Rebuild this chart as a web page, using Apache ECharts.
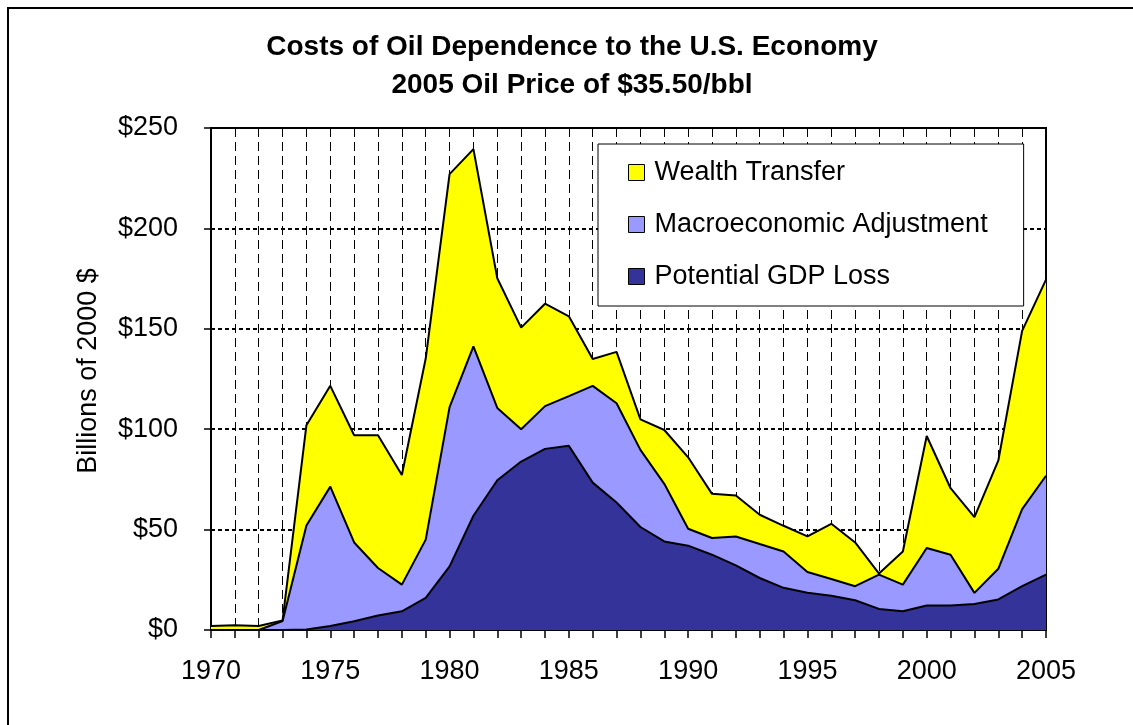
<!DOCTYPE html>
<html>
<head>
<meta charset="utf-8">
<title>Costs of Oil Dependence</title>
<script src="https://cdn.jsdelivr.net/npm/echarts@6/dist/echarts.min.js"></script>
<style>
    html,body{margin:0;padding:0;background:#fff;}
    #chart{width:1133px;height:725px;}
</style>
</head>
<body>
<div id="chart"></div>
<script>
// 数据 (billions of 2000 $)
var years = ['1970','1971','1972','1973','1974','1975','1976','1977','1978','1979',
             '1980','1981','1982','1983','1984','1985','1986','1987','1988','1989',
             '1990','1991','1992','1993','1994','1995','1996','1997','1998','1999',
             '2000','2001','2002','2003','2004','2005'];
var gdpLoss = [0,0,0,0,0.3,2,4.4,7.2,9.3,16,
               31.7,56.9,74.6,83.9,90.2,91.7,73.4,63.5,51.3,44.1,
               42,37.5,32.2,25.9,21,18.5,17.1,14.8,10.5,9.3,
               12.2,12.2,13,15.2,21.8,27.6];
var macroAdj = [0,0,0,4.5,51.7,69.4,39.2,23.7,13.3,29,
                79.3,84.4,36,16.1,21.3,24.8,48.2,49.4,38.4,28.7,
                8.4,8.3,14.4,16.9,18.1,10.4,8.3,7,17.1,13.3,
                28.6,25.3,5.5,15.3,38.4,49.2];
var wealthTransfer = [2,2.4,2,0.3,50,50.2,53.4,66.1,54.6,90.2,
                      116,98.2,64.6,50.6,51,39.7,13.4,25.6,15.2,26.8,
                      35.6,22,20.4,14.6,12.8,17.7,27.5,21.8,0.5,16.5,
                      55.8,33.1,37.7,53.8,88.8,97.7];
var seriesNames = ['Wealth Transfer','Macroeconomic Adjustment','Potential GDP Loss'];
var yTicks = [0,50,100,150,200,250];

var colors = {
    'Wealth Transfer':'#ffff00',
    'Macroeconomic Adjustment':'#9999ff',
    'Potential GDP Loss':'#333399'
};
var font = 'Liberation Sans, Arial, sans-serif';

function areaSeries(name,arr){
    return {
        name:name,
        type:'line',
        stack:'total',
        symbol:'none',
        data:arr,
        itemStyle:{color:colors[name]},
        lineStyle:{color:'#000',width:2},
        areaStyle:{color:colors[name],opacity:1}
    };
}

// half-year slots, only used for the small inner ticks
var halfSlots = years.slice(1);

var chart = echarts.init(document.getElementById('chart'));
var option = {
    backgroundColor:'#fff',
    animation:false,
    title:{
        text:'Costs of Oil Dependence to the U.S. Economy\n2005 Oil Price of $35.50/bbl',
        left:572,
        top:28,
        padding:0,
        textAlign:'center',
        textStyle:{
            fontFamily:font,
            fontSize:28,
            fontWeight:'bold',
            color:'#000',
            lineHeight:38
        }
    },
    graphic:[{
        type:'rect',
        shape:{x:8,y:8,width:1300,height:900},
        style:{fill:null,stroke:'#000',lineWidth:2},
        silent:true
    }],
    legend:{
        orient:'vertical',
        left:598,
        top:144,
        padding:[15,36,16,30],
        itemGap:25,
        itemWidth:16,
        itemHeight:16,
        backgroundColor:'#fff',
        borderColor:'#000',
        borderWidth:1,
        z:10,
        textStyle:{fontFamily:font,fontSize:27,color:'#000',padding:[0,0,0,5]},
        data:seriesNames.map(function(n){
            return {name:n,icon:'rect',itemStyle:{color:colors[n],borderColor:'#000',borderWidth:1}};
        })
    },
    grid:{
        left:211,
        right:87,
        top:128,
        bottom:95,
        show:true,
        borderColor:'#000',
        borderWidth:2,
        backgroundColor:'#fff'
    },
    xAxis:[{
        type:'category',
        data:years,
        boundaryGap:false,
        axisLine:{lineStyle:{color:'#000',width:2}},
        axisTick:{interval:0,length:8,lineStyle:{color:'#000',width:1.5}},
        splitLine:{show:true,interval:0,lineStyle:{color:'#000',width:1,type:[9,5]}},
        axisLabel:{
            interval:4,
            margin:28,
            fontFamily:font,
            fontSize:27,
            color:'#000'
        }
    },{
        type:'category',
        data:halfSlots,
        boundaryGap:true,
        position:'bottom',
        axisLine:{show:false},
        axisTick:{inside:true,alignWithLabel:true,interval:0,length:5,lineStyle:{color:'#000',width:1.5}},
        axisLabel:{show:false},
        splitLine:{show:false}
    }],
    yAxis:{
        type:'value',
        min:yTicks[0],
        max:yTicks[yTicks.length-1],
        interval:50,
        name:'Billions of 2000 $',
        nameLocation:'middle',
        nameGap:109,
        nameTextStyle:{fontFamily:font,fontSize:27,color:'#000',padding:[0,0,0,16]},
        axisLine:{show:true,lineStyle:{color:'#000',width:2}},
        axisTick:{show:true,length:7,lineStyle:{color:'#000',width:1.5}},
        splitLine:{show:true,lineStyle:{color:'#000',width:2,type:[4,3]}},
        axisLabel:{
            margin:33,
            fontFamily:font,
            fontSize:27,
            color:'#000',
            formatter:function(v){return '$'+v;}
        }
    },
    series:[
        areaSeries('Potential GDP Loss',gdpLoss),
        areaSeries('Macroeconomic Adjustment',macroAdj),
        areaSeries('Wealth Transfer',wealthTransfer)
    ]
};
chart.setOption(option);
</script>
</body>
</html>
